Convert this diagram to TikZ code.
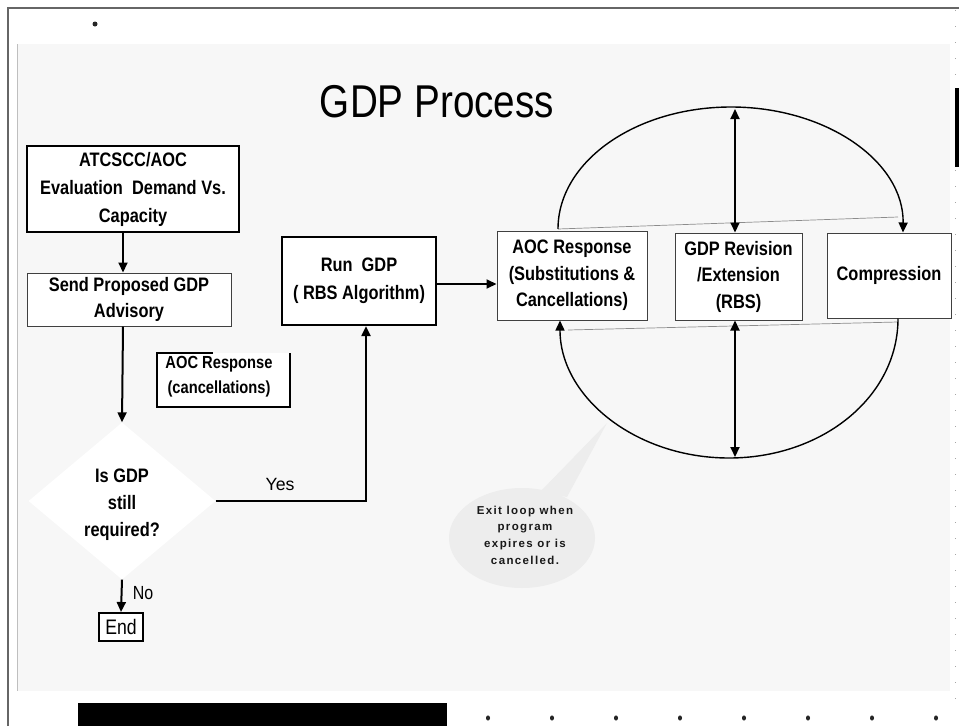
\documentclass[tikz,border=0pt]{standalone}
\usepackage{fontspec}
\setmainfont{Liberation Sans}
\newfontfamily\nar[FakeStretch=0.84]{Liberation Sans}
\newfontfamily\spacedb[LetterSpace=12, UprightFont={* Bold}]{Liberation Sans}
\usetikzlibrary{arrows.meta,shapes.geometric}
\definecolor{panel}{HTML}{F7F7F7}
\definecolor{bubble}{HTML}{EDEDED}
\tikzset{
  thickbox/.style={draw=black, line width=2.2pt, fill=white, align=center, inner sep=0pt,
    font=\nar\bfseries\fontsize{19.5}{28}\selectfont},
  thinbox/.style={draw=black!75, line width=1pt, fill=white, align=center, inner sep=0pt,
    font=\nar\bfseries\fontsize{19.5}{26.5}\selectfont},
  arr/.style={line width=2pt, -{Triangle[length=10pt,width=9pt]}},
  darr/.style={line width=2pt, {Triangle[length=10pt,width=9pt]}-{Triangle[length=10pt,width=9pt]}},
  looparc/.style={line width=1.4pt},
  chord/.style={line width=0.7pt, draw=black!45},
}
\begin{document}
\begin{tikzpicture}[x=1pt,y=-1pt]
\useasboundingbox (0,0) rectangle (959,726);
% page decorations
\fill[white] (0,0) rectangle (959,726);
\fill[panel] (17,44) rectangle (950,691);
\draw[black!25, line width=0.8pt] (17,44) -- (17,691);
\draw[black!60, line width=1.5pt] (8,726) -- (8,8) -- (959,8);
\draw[black!35, line width=1pt, dash pattern=on 1pt off 15pt] (955,10) -- (955,700);
\fill[black] (955,88) rectangle (959,167);
\fill[black!85] (95,24) circle[radius=2.5pt];
\fill[black] (78,703) rectangle (447,726);
\foreach \xx in {488,552,616,680,744,808,872,936}
  \fill[black!85] (\xx,718) ellipse[x radius=2pt, y radius=2.6pt];

% title
\node (title) at (437,102) {\nar\fontsize{46}{50}\selectfont GDP Process};

% left column
\node[thickbox, minimum width=212pt, minimum height=86pt] (atc) at (133,189)
  {ATCSCC/AOC\\Evaluation\ \ Demand Vs.\\Capacity};
\node[thinbox, minimum width=204pt, minimum height=53pt] (send) at (129,299.5)
  {Send Proposed GDP\\Advisory};
\node[diamond, fill=white, inner sep=0pt, minimum width=187pt, minimum height=157pt,
  aspect=1.19] (dia) at (122,501) {};
\node[align=center, font=\nar\bfseries\fontsize{19.5}{27}\selectfont] (diat) at (122,505)
  {Is GDP\\still\\required?};
\node[draw=black, line width=2pt, fill=white, inner sep=0pt, minimum width=44pt, minimum height=28pt,
  font=\nar\fontsize{21}{24}\selectfont] (end) at (121,627) {End};

% AOC response (cancellations) box
\coordinate (c1) at (157,353);
\coordinate (c2) at (290,407);
\fill[white] (c1) rectangle (c2);
\draw[line width=2.2pt] (213,353) -- (157,353) -- (157,407) -- (290,407) -- (290,353);
\node[align=center, font=\nar\bfseries\fontsize{17.5}{25}\selectfont] (canc) at (219,377)
  {AOC Response\\(cancellations)};

% Run GDP
\node[thickbox, minimum width=154pt, minimum height=88pt] (run) at (359,281)
  {Run\ \ GDP\\( RBS Algorithm)};

% loop boxes
\node[thinbox, minimum width=150pt, minimum height=89pt] (aoc) at (572,275.5)
  {AOC Response\\(Substitutions \&\\Cancellations)};
\node[thinbox, minimum width=127pt, minimum height=87pt] (rev) at (738.5,276.5)
  {GDP Revision\\/Extension\\(RBS)};
\node[thinbox, minimum width=124pt, minimum height=85pt] (comp) at (889,275.5)
  {Compression};

% helper coordinates
\coordinate (xl) at (123,0);
\coordinate (xr) at (366,0);
\coordinate (ya) at (0,284);
\coordinate (ltop) at (735,109);
\coordinate (lbot) at (735,457);

% left connectors
\draw[arr] (atc.south -| xl) -- (send.north -| xl);
\draw[arr] (send.south -| xl) -- (dia.north);
\draw[arr] (dia.east) -| (run.south -| xr);
\draw[arr] (dia.south) -- (end.north);
\draw[arr] (run.east |- ya) -- (aoc.west |- ya);
\node[font=\fontsize{17.7}{20}\selectfont] (yes) at (280,484) {Yes};
\node[font=\nar\fontsize{19}{22}\selectfont] (no) at (143,593) {No};

% loop
\draw[chord] (558,229) -- (898,217);
\draw[chord] (568,330) -- (898,322);
\draw[looparc, -{Triangle[length=10pt,width=9pt]}] (558,229)
  .. controls (558,161.6) and (635.5,107) .. (731,107)
  .. controls (826.5,107) and (904,161.6) .. (comp.north -| 903,0);
\draw[looparc, -{Triangle[length=10pt,width=9pt]}] (comp.south -| 898,0)
  .. controls (898,397) and (822.3,458) .. (729,458)
  .. controls (635.7,458) and (560,397) .. (aoc.south -| 560,0);
\draw[darr] (ltop) -- (rev.north -| ltop);
\draw[darr] (rev.south -| lbot) -- (lbot);

% callout
\fill[bubble] (540,492) -- (607,423) -- (567,497) -- cycle;
\fill[bubble] (522,538) ellipse[x radius=73pt, y radius=50pt];
\node[align=center, font=\spacedb\fontsize{11.5}{16.7}\selectfont, text=black!90] (note) at (525,535)
  {Exit loop when\\program\\ expires or is\\cancelled.};
\end{tikzpicture}
\end{document}
